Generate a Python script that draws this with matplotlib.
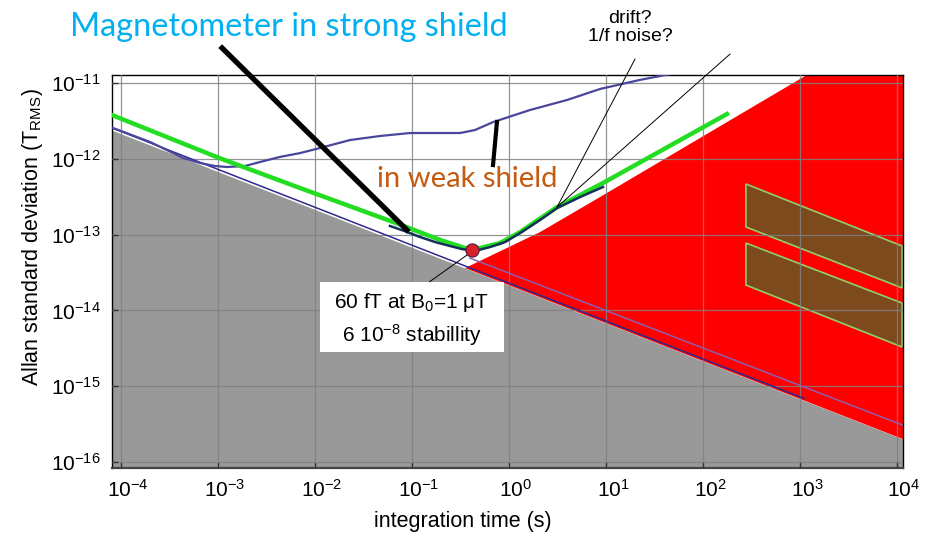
import numpy as np
import matplotlib
matplotlib.use("Agg")
import matplotlib.pyplot as plt
from matplotlib.patches import Polygon, Rectangle
from matplotlib.transforms import ScaledTranslation

#######################################
# Data
#######################################
# grey region: upper edge
floor_tau = [5e-5, 2e4]
floor_sig = [3.03e-12, 1.52e-16]

# thin navy line just above the grey edge
navy_tau = [8.3e-5, 1.1e3]
navy_sig = [2.52e-12, 6.9e-16]

# lighter line inside the red region
light_tau = [0.396, 1.2e4]
light_sig = [4.9e-14, 3.0e-16]

# red region (upper boundary points, then right side / floor)
red_tau = [0.352, 2.09, 8.67, 1180, 2e4, 2e4]
red_sig = [3.62e-14, 1.08e-13, 3.13e-13, 1.28e-11, 1.28e-11, 1.52e-16]

# green line
green_tau = [8.07e-5, 1.02e-3, 7.0e-3, 0.0637, 0.195, 0.352, 0.502, 0.807, 1.30, 3.13, 9.31, 176.6]
green_sig = [3.78e-12, 1.03e-12, 4.12e-13, 1.47e-13, 8.5e-14, 6.65e-14, 6.65e-14, 7.74e-14, 1.08e-13, 2.31e-13, 4.8e-13, 3.9e-12]

# magnetometer in strong shield
strong_tau = [0.0593, 0.0847, 0.121, 0.173, 0.246, 0.327, 0.446, 0.637, 0.910, 1.30, 2.09, 3.13, 5.40, 9.31]
strong_sig = [1.30e-13, 1.11e-13, 9.3e-14, 7.98e-14, 7.08e-14, 6.45e-14, 6.08e-14, 6.86e-14, 7.98e-14,
              1.05e-13, 1.56e-13, 2.24e-13, 3.13e-13, 4.25e-13]

# in weak shield
weak_tau = [8.28e-5, 1.99e-4, 4.36e-4, 6.52e-4, 9.31e-4, 1.24e-3, 1.90e-3, 2.71e-3, 4.36e-3, 7.0e-3,
            0.01127, 0.0230, 0.0468, 0.0953, 0.195, 0.313, 0.446, 0.684, 1.64, 3.96, 8.67, 22.4, 45.7]
weak_sig = [2.55e-12, 1.67e-12, 1.03e-12, 8.81e-13, 8.04e-13, 7.8e-13, 8.04e-13, 9.08e-13, 1.06e-12, 1.19e-12,
            1.39e-12, 1.77e-12, 2.0e-12, 2.19e-12, 2.19e-12, 2.19e-12, 2.40e-12, 3.05e-12, 4.4e-12, 5.97e-12,
            8.34e-12, 1.10e-11, 1.31e-11]

# brown boxes
box1_tau = [277, 1.13e4, 1.13e4, 277]
box1_sig = [4.66e-13, 7.08e-14, 1.98e-14, 1.26e-13]
box2_tau = [277, 1.13e4, 1.13e4, 277]
box2_sig = [7.74e-14, 1.25e-14, 3.29e-15, 2.16e-14]

# best point
dot_tau = 0.416
dot_sig = 6.27e-14

xticks = [1e-4, 1e-3, 1e-2, 1e-1, 1e0, 1e1, 1e2, 1e3, 1e4]
yticks = [1e-16, 1e-15, 1e-14, 1e-13, 1e-12, 1e-11]

#######################################
# Plot
#######################################
plt.rcParams['font.family'] = ['Liberation Sans', 'DejaVu Sans']
plt.rcParams['mathtext.fontset'] = 'custom'
plt.rcParams['mathtext.rm'] = 'Liberation Sans'
plt.rcParams['mathtext.it'] = 'Liberation Sans:italic'
plt.rcParams['mathtext.bf'] = 'Liberation Sans:bold'

fig = plt.figure(figsize=(9.35, 5.4), dpi=100)
ax = fig.add_axes([112/935, 72/540, 791/935, 393/540])
ax.set_xscale('log')
ax.set_yscale('log')
ax.set_xlim(8.07e-5, 1.153e4)
ax.set_ylim(8.34e-17, 1.276e-11)

ax.fill_between(floor_tau, 1e-18, floor_sig, color='#999999', lw=0, zorder=1)
ax.add_patch(Polygon(list(zip(red_tau, red_sig)), closed=True, fc='#ff0000', ec='none', zorder=1))
for bt, bs in [(box1_tau, box1_sig), (box2_tau, box2_sig)]:
    ax.add_patch(Polygon(list(zip(bt, bs)), closed=True, fc='#7d4a1e', ec='#8fd06a', lw=1.2, zorder=1.5))

ax.plot(navy_tau, navy_sig, color='#2e2a8c', lw=1.1, zorder=3)
ax.plot(light_tau, light_sig, color='#8a5fb0', lw=1.1, zorder=3)
ax.plot(weak_tau, weak_sig, color='#4a469c', lw=1.6, zorder=3)
ax.plot(green_tau, green_sig, color='#22dd22', lw=3.2, zorder=4)
ax.plot(strong_tau, strong_sig, color='#15305a', lw=1.8, zorder=5)
ax.plot([dot_tau], [dot_sig], 'o', ms=9.5, mfc='#d8202c', mec='#5a1a3a', mew=0.8, zorder=6)

# pointer lines
ax.plot([1.10e-3, 0.0887], [2.9e-11, 1.15e-13], color='black', lw=3.8, clip_on=False, zorder=7)
ax.plot([0.751, 0.684], [3.06e-12, 8.28e-13], color='black', lw=3.0, clip_on=False, zorder=7)
ax.plot([19.9, 3.13], [2.07e-11, 2.31e-13], color='black', lw=0.7, clip_on=False, zorder=7)
ax.plot([190, 3.13], [2.41e-11, 2.31e-13], color='black', lw=0.7, clip_on=False, zorder=7)
ax.plot([0.136, 0.369], [2.16e-14, 5.38e-14], color='black', lw=0.7, zorder=7)

# annotation box
ax.add_patch(Rectangle((0.263, 0.295), 0.2326, 0.178, transform=ax.transAxes,
                       fc='white', ec='none', zorder=8))
ax.text(0.379, 0.407, r'60 fT at B$_0$=1 μT', transform=ax.transAxes, ha='center',
        va='baseline', fontsize=15, zorder=9)
ax.text(0.379, 0.3206, r'6 10$^{-8}$ stabillity', transform=ax.transAxes, ha='center',
        va='baseline', fontsize=15, zorder=9)

ax.set_xticks(xticks)
ax.set_yticks(yticks)
ax.minorticks_off()
ax.grid(True, color='#808080', lw=0.9, alpha=0.85)
ax.set_axisbelow(False)
ax.tick_params(direction='in', length=4, width=1, color='#333333', labelsize=15, pad=8)
for lab in ax.get_xticklabels():
    lab.set_transform(lab.get_transform() + ScaledTranslation(7/100, 0, fig.dpi_scale_trans))
for s in ['top', 'right', 'left']:
    ax.spines[s].set_color('black')
    ax.spines[s].set_linewidth(1.0)
ax.spines['bottom'].set_color('#444444')
ax.spines['bottom'].set_linewidth(1.6)

fig.text(33/935, 1-237/540, r'Allan standard deviation (T$_{\mathrm{RMS}}$)', rotation=90,
         ha='center', va='center', fontsize=15.5)
fig.text(463/935, 1-522/540, 'integration time (s)', ha='center', va='center', fontsize=15.5)

fig.text(70/935, 1-36/540, 'Magnetometer in strong shield', color='#00b0f0',
         family='Lato', fontsize=23.3, ha='left', va='baseline')
fig.text(377/935, 1-187/540, 'in weak shield', color='#c55a11',
         family='Lato', fontsize=21, ha='left', va='baseline')
fig.text(630/935, 1-10/540, 'drift?\n1/f noise?', ha='center', va='top', ma='center',
         fontsize=14, linespacing=1.05)

fig.savefig('out.png', dpi=100)
